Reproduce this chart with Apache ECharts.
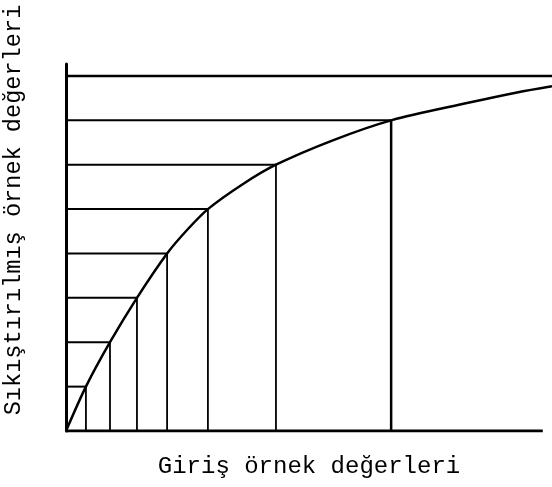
<!DOCTYPE html>
<html>
<head>
<meta charset="utf-8">
<script src="https://cdn.jsdelivr.net/npm/echarts@6/dist/echarts.min.js"></script>
<style>
  html, body { margin: 0; padding: 0; background: #fff; }
  #chart-container { width: 552px; height: 487px; }
</style>
</head>
<body>
<div id="chart-container"></div>
<script>
// sample points on the compression curve (input -> compressed level)
var sampleX = [0, 4.1, 9.05, 14.6, 20.8, 29.2, 43.2, 66.9];
var levels = [0, 1, 2, 3, 4, 5, 6, 7];
var curveX = [0, 4.1, 9.05, 14.6, 20.8, 25.0, 29.2, 36.2, 43.2, 54.9, 66.9, 82.5, 92.8, 100];
var curveY = [0, 1, 2, 3, 4, 4.54, 5, 5.55, 6, 6.55, 7, 7.39, 7.63, 7.77];
var topLevel = 8;
var xAxisEnd = 98.1;

var xLabel = 'Giriş örnek değerleri';
var yLabel = 'Sıkıştırılmış örnek değerleri';

var dom = document.getElementById('chart-container');
var myChart = echarts.init(dom, null, { renderer: 'canvas' });

var curve = curveX.map(function (x, i) { return [x, curveY[i]]; });

var series = [];
function seg(data, w) {
  series.push({
    type: 'line', data: data, symbol: 'none', silent: true,
    lineStyle: { color: '#000', width: w }
  });
}

// guide lines: level -> curve, curve -> x axis
for (var k = 1; k < sampleX.length; k++) {
  seg([[0, levels[k]], [sampleX[k], levels[k]]], 2);
  seg([[sampleX[k], 0], [sampleX[k], levels[k]]], k === 7 ? 2.5 : 1.8);
}
seg([[0, topLevel], [100, topLevel]], 2.5);
// x axis line (shorter than the plot)
seg([[0, 0], [xAxisEnd, 0]], 3);

series.push({
  type: 'line', data: curve, symbol: 'none', smooth: 0.3,
  silent: true, lineStyle: { color: '#000', width: 2.5 }
});

var option = {
  backgroundColor: '#fff',
  animation: false,
  grid: { left: 66, right: 0, top: 64, bottom: 56 },
  xAxis: {
    type: 'value', min: 0, max: 100,
    axisLine: { show: false }, axisTick: { show: false },
    axisLabel: { show: false }, splitLine: { show: false },
    name: xLabel, nameLocation: 'middle', nameGap: 24,
    nameTextStyle: { fontFamily: 'Liberation Mono', fontSize: 24, color: '#000' }
  },
  yAxis: {
    type: 'value', min: 0, max: 8.27,
    axisLine: { show: true, lineStyle: { color: '#000', width: 3 } },
    axisTick: { show: false }, axisLabel: { show: false },
    splitLine: { show: false }
  },
  graphic: [{
    type: 'text', x: 14, y: 210, rotation: Math.PI / 2,
    style: {
      text: yLabel, fontFamily: 'Liberation Mono', fontSize: 23.6,
      fill: '#000', align: 'center', verticalAlign: 'middle'
    }
  }],
  series: series
};

myChart.setOption(option);
window.addEventListener('resize', myChart.resize);
</script>
</body>
</html>
